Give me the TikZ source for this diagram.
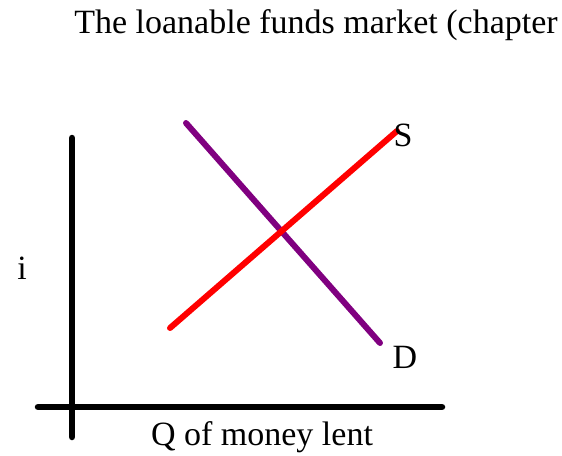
\documentclass[tikz,border=0pt]{standalone}
\usepackage{fontspec}
\setmainfont{Liberation Serif}
\begin{document}
\begin{tikzpicture}[x=1pt,y=-1pt,
  axis/.style={line width=6.5pt,black,line cap=round},
  curve/.style={line width=6pt,line cap=round},
  lbl/.style={font=\fontsize{34}{40}\selectfont,inner sep=0pt}]
\useasboundingbox (0,0) rectangle (562,455);
\node[lbl] (title) at (316,25) {The loanable funds market (chapter};
\coordinate (vt) at (72,138);
\coordinate (vb) at (72,437);
\coordinate (hl) at (38,407);
\coordinate (hr) at (442,407);
\draw[axis] (vt) -- (vb);
\draw[axis] (hl) -- (hr);
\node[lbl] (ilbl) at (22,268) {i};
\node[lbl] (qlbl) at (262,437) {Q of money lent};
\coordinate (s1) at (170,328);
\coordinate (s2) at (397,131);
\coordinate (d1) at (186,123);
\coordinate (d2) at (380,343);
\draw[curve,color={rgb,255:red,128;green,0;blue,128}] (d1) -- (d2);
\draw[curve,red] (s1) -- (s2);
\node[lbl] (slbl) at (403,135) {S};
\node[lbl] (dlbl) at (405,357) {D};
\end{tikzpicture}
\end{document}
